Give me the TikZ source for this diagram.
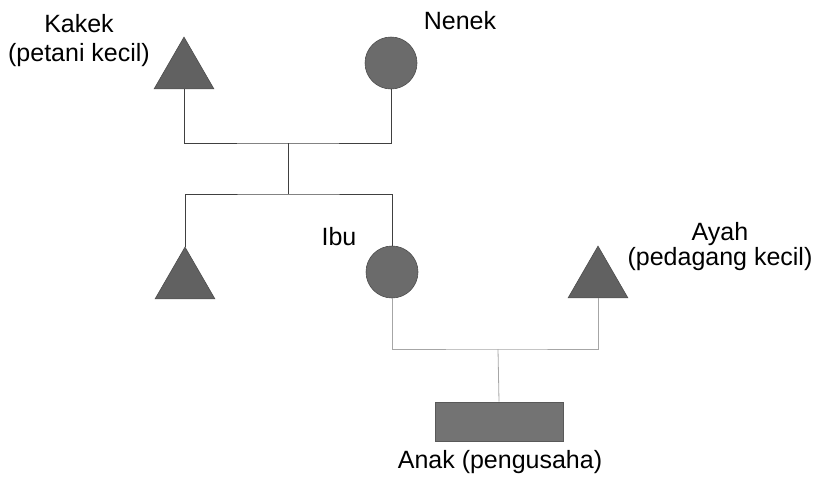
\documentclass[tikz,border=0pt]{standalone}
\usepackage{fontspec}
\setmainfont{Liberation Sans}
\usetikzlibrary{shapes.geometric}
\begin{document}
\begin{tikzpicture}[x=1pt,y=-1pt,
  male/.style={regular polygon, regular polygon sides=3, minimum size=69pt, inner sep=0pt, fill=black!62, draw=black!70, line width=0.6pt},
  female/.style={circle, minimum size=52pt, inner sep=0pt, fill=black!58, draw=black!70, line width=0.6pt},
  child/.style={rectangle, minimum width=128pt, minimum height=39pt, inner sep=0pt, fill=black!55, draw=black!65, line width=0.6pt},
  lbl/.style={anchor=base, inner sep=0pt, font=\fontsize{25}{29}\selectfont},
  upper/.style={draw=black!75, line width=0.8pt},
  lower/.style={draw=black!35, line width=0.8pt}]
\useasboundingbox (0,0) rectangle (819,477);
% persons
\node[male] (kakek) at (184,71.6) {};
\node[female] (nenek) at (391,63) {};
\node[male] (paman) at (185,281.6) {};
\node[female] (ibu) at (392,272) {};
\node[male] (ayah) at (598,280.6) {};
\node[child] (anak) at (499,421.5) {};
% junctions
\coordinate (j1) at (288,143);
\coordinate (j2) at (288,194);
\coordinate (j3) at (498,349);
% connectors
\draw[upper] (kakek.south) |- (j1) -| (nenek.south);
\draw[upper] (j1) -- (j2);
\draw[upper] (paman.north) |- (j2) -| (ibu.north);
\draw[lower] (ibu.south) |- (j3) -| (ayah.south);
\draw[lower] (j3) -- (anak.north);
% labels
\node[lbl] (l1) at (79,32) {Kakek};
\node[lbl] (l2) at (79,61) {(petani kecil)};
\node[lbl] (l3) at (460,29) {Nenek};
\node[lbl] (l4) at (339,245) {Ibu};
\node[lbl] (l5) at (720,240) {Ayah};
\node[lbl] (l6) at (720,265) {(pedagang kecil)};
\node[lbl] (l7) at (500,468) {Anak (pengusaha)};
\end{tikzpicture}
\end{document}
